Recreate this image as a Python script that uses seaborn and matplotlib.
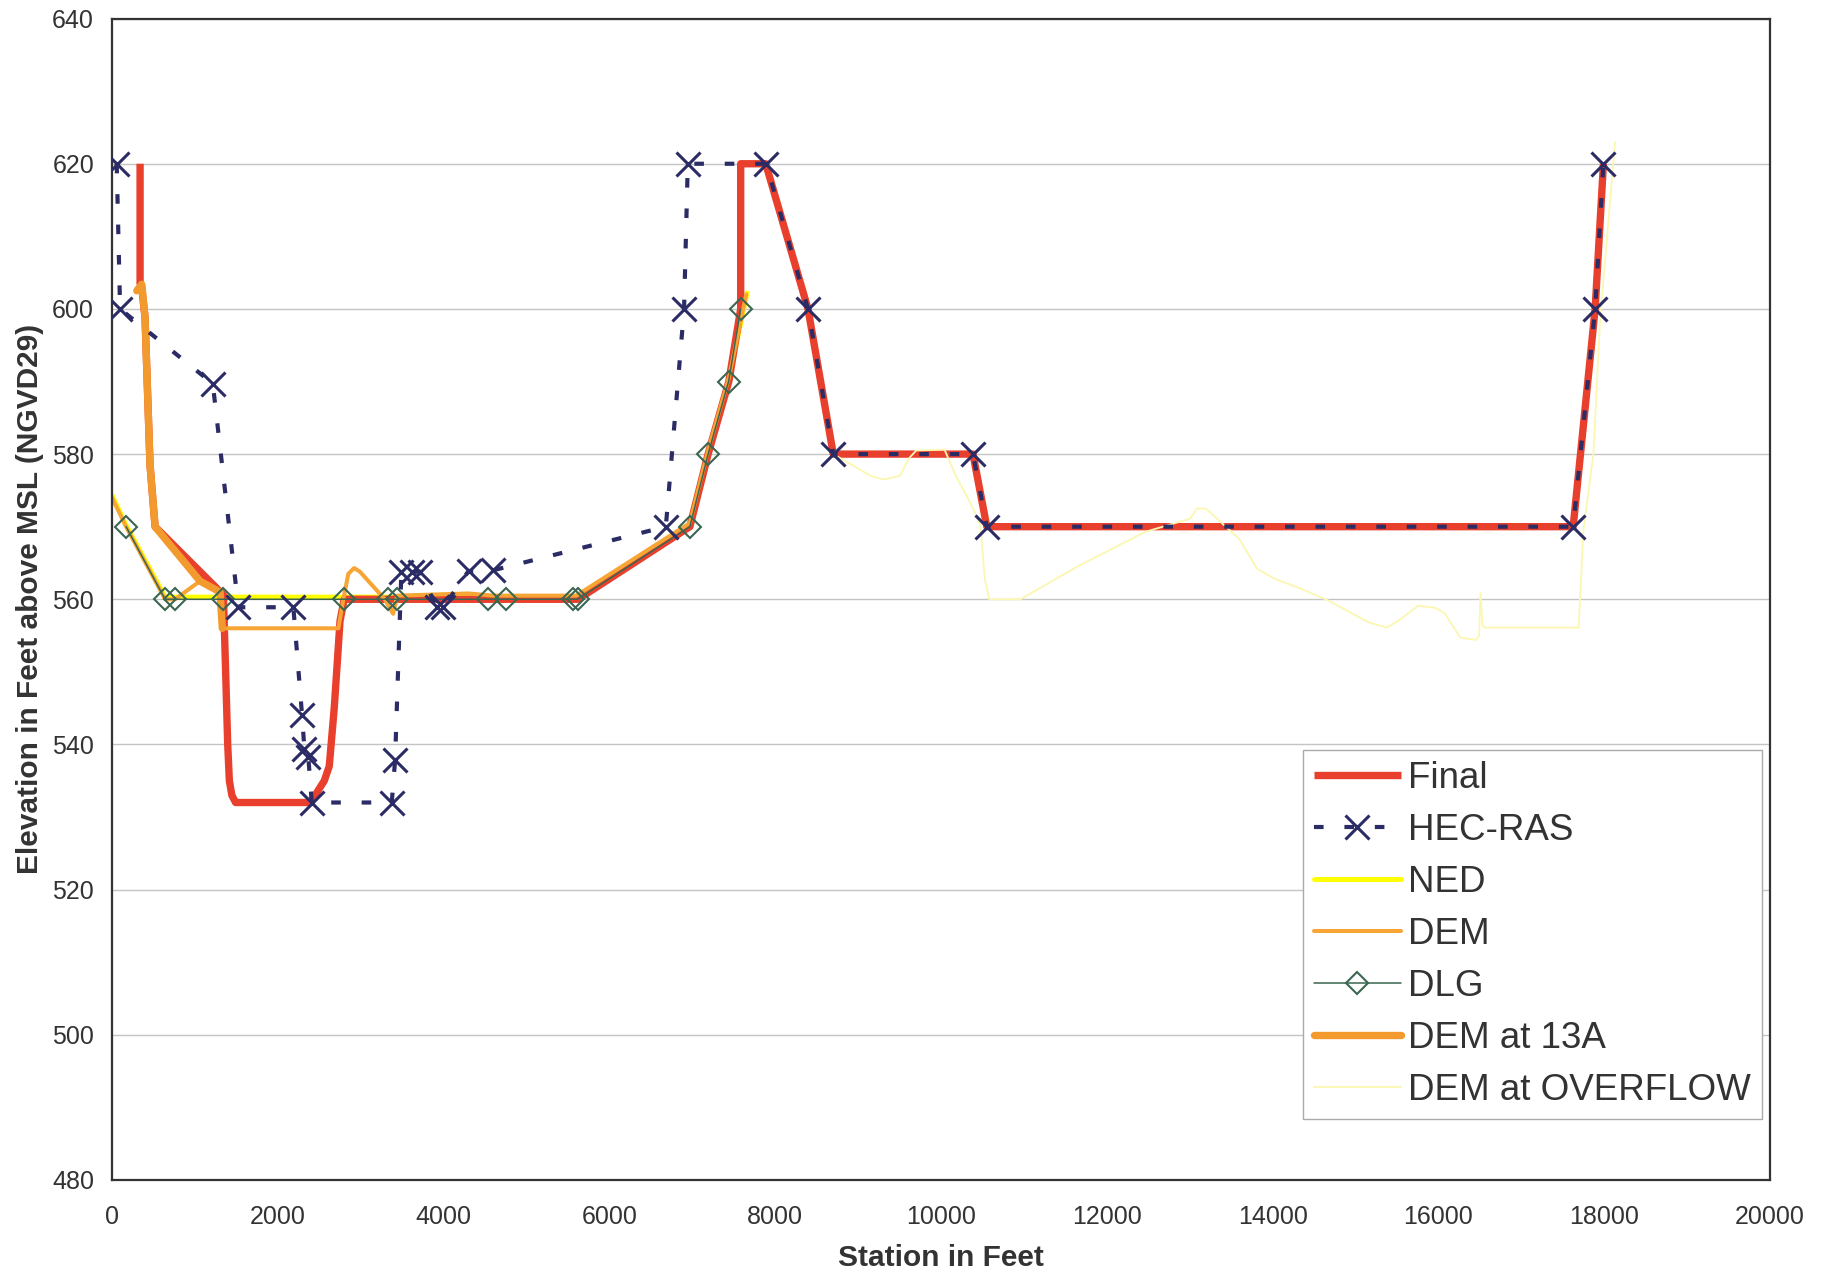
import numpy as np
import pandas as pd
import matplotlib
matplotlib.use("Agg")
import matplotlib.pyplot as plt
import seaborn as sns

# station (ft) / elevation (ft) for each cross-section source
final_x = [338, 338, 358, 398, 418, 458, 519, 1343, 1370, 1395, 1415, 1445, 1490, 2388, 2450, 2560,
           2620, 2680, 2750, 2800, 5620, 6970, 7190, 7440, 7583, 7583, 7885, 8395, 8700, 10385,
           10552, 17625, 17890, 17990]
final_y = [620, 603.5, 603, 598.8, 592, 578.5, 570, 560.6, 550, 540, 535, 533, 532, 532, 533, 535,
           537, 545, 557, 560, 560, 570, 580, 590, 600, 620, 620, 600, 580, 580,
           570, 570, 600, 620]

hec_x = [56, 97, 1215, 1524, 2187, 2292, 2320, 2368, 2409, 3374, 3414, 3490, 3614, 3715, 3916, 3996,
         4300, 4600, 6680, 6900, 6945, 7890, 8395, 8700, 10385, 10552, 17625, 17890, 17990]
hec_y = [620, 600, 589.7, 558.9, 558.9, 544, 539.4, 538.2, 532, 532, 537.8, 563.8, 563.8, 563.8,
         558.9, 558.9, 563.9, 564, 570, 600, 620, 620, 600, 580, 580, 570, 570, 600, 620]

ned_x = [0, 169, 640, 5600, 6970, 7190, 7440, 7660]
ned_y = [574.3, 570.2, 560.3, 560.3, 570.3, 580.3, 590.3, 602.2]

dem_x = [0, 169, 640, 760, 1061, 1303, 1330, 2730, 2790, 2850, 2920, 2990, 3290, 3390, 3440,
         4300, 4600, 5600, 6970, 7190, 7440, 7650]
dem_y = [574, 570, 560, 560, 562.5, 561, 556, 556, 560, 563.5, 564.3, 563.8, 560, 558, 560.5,
         560.8, 560.5, 560.5, 570.5, 580.5, 590.5, 602]

dlg_x = [169, 639, 760, 1343, 2799, 3325, 3434, 4530, 4752, 5565, 5617, 6970, 7190, 7437, 7583]
dlg_y = [570, 560, 560, 560, 560, 560, 560, 560, 560, 560, 560, 570, 580, 590, 600]

d13_x = [298, 358, 398, 418, 458, 519, 1061, 1303, 1330]
d13_y = [602.5, 603.4, 598.8, 592, 578.5, 570, 562.5, 561, 556]

ovf_x = [8700, 8943, 9150, 9305, 9505, 9612, 9700, 10042, 10178, 10366, 10475, 10528, 10582,
         10958, 11659, 12466, 13005, 13086, 13194, 13329, 13598, 13812, 14029, 14352, 14676,
         15161, 15376, 15537, 15753, 15968, 16075, 16264, 16452, 16490, 16507, 16530, 16560,
         17691, 17748, 17869, 17949, 18130]
ovf_y = [580, 578.4, 577, 576.5, 577, 579.4, 580.5, 580.6, 577, 573, 570.2, 562.8, 560,
         560, 564.6, 569.3, 571.1, 572.5, 572.5, 571.1, 568.3, 564.2, 562.8, 561.4, 559.8,
         556.8, 556.1, 557.2, 559.1, 558.8, 558.1, 554.7, 554.4, 555, 560.9, 556.5, 556.1,
         556.1, 569.4, 580, 598.3, 623]

sns.set_theme(style="white")
plt.rcParams['font.family'] = ['Liberation Sans', 'DejaVu Sans']

fig = plt.figure(figsize=(18.28, 12.73), dpi=100)
ax = fig.add_axes([0.0613, 0.0731, 0.907, 0.9123])

common = dict(ax=ax, estimator=None, sort=False)
navy = "#2b2b66"

sns.lineplot(x=final_x, y=final_y, color="#e8402c", lw=5.3, label="Final", zorder=2,
             solid_capstyle="butt", **common)
sns.lineplot(x=hec_x, y=hec_y, color=navy, lw=3.0, linestyle=(0, (2.3, 5)),
             marker="x", markersize=17, markeredgewidth=2.2, markeredgecolor=navy,
             label="HEC-RAS", zorder=3, **common)
sns.lineplot(x=ned_x, y=ned_y, color="#ffff00", lw=3.6, label="NED", zorder=1.5, **common)
sns.lineplot(x=dem_x, y=dem_y, color="#f7a535", lw=2.9, label="DEM", zorder=2.4, **common)
sns.lineplot(x=dlg_x, y=dlg_y, color="#3b6650", lw=1.1, marker="D", markersize=11,
             markerfacecolor="none", markeredgecolor="#3b6650", markeredgewidth=1.5,
             label="DLG", zorder=2.6, **common)
sns.lineplot(x=d13_x, y=d13_y, color="#f39a2e", lw=5.3, label="DEM at 13A", zorder=2.5, **common)
sns.lineplot(x=ovf_x, y=ovf_y, color="#fbf7b0", lw=1.3, label="DEM at OVERFLOW", zorder=2.1,
             **common)

ax.set_xlim(0, 20000)
ax.set_ylim(480, 640)
ax.set_xticks(np.arange(0, 20001, 2000))
ax.set_yticks(np.arange(480, 641, 20))
ax.yaxis.grid(True, color="#c4c4c4", lw=1.0)
ax.xaxis.grid(False)
for s in ax.spines.values():
    s.set_color("#333333")
    s.set_linewidth(1.6)
ax.tick_params(axis="both", direction="out", length=4, width=1, color="#555555",
               labelsize=18, labelcolor="#333333")
ax.tick_params(axis="x", pad=14)
ax.tick_params(axis="y", pad=9)

ax.set_xlabel("Station in Feet", fontsize=21.5, fontweight="bold", color="#333333")
ax.set_ylabel("Elevation in Feet above MSL (NGVD29)", fontsize=21.5, fontweight="bold",
              color="#333333")
ax.xaxis.set_label_coords(0.5, -0.055)
ax.yaxis.set_label_coords(-0.041, 0.5)

handles, labels = ax.get_legend_handles_labels()
leg = ax.legend(handles, labels, loc="lower right", bbox_to_anchor=(0.995, 0.0525),
                fontsize=26.5, frameon=True, fancybox=False, framealpha=1,
                edgecolor="#aaaaaa", handlelength=2.35, handletextpad=0.2,
                labelspacing=0.46, borderpad=0.3, borderaxespad=0)
leg.get_frame().set_linewidth(1.0)
for t in leg.get_texts():
    t.set_color("#333333")

fig.savefig("out.png", dpi=100)
